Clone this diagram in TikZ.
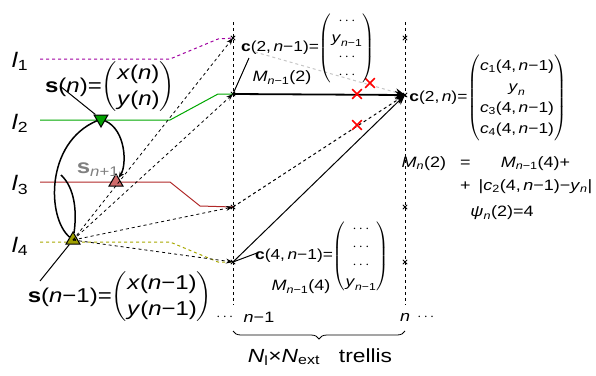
\documentclass[tikz,border=0pt]{standalone}
\usepackage{fontspec}
\setmainfont[FakeStretch=1.2]{Liberation Sans}
\usepackage{amsmath}
\usetikzlibrary{positioning,arrows.meta,shapes.geometric,shapes.misc,decorations.pathreplacing}
\definecolor{lvlone}{HTML}{A000A0}
\definecolor{lvltwo}{HTML}{00A800}
\definecolor{lvlthree}{HTML}{B02828}
\definecolor{lvlfour}{HTML}{A8A800}
\definecolor{trigreen}{HTML}{00A000}
\definecolor{trired}{HTML}{D06A6A}
\definecolor{triolive}{HTML}{A0A000}
\newcommand{\lowidx}[1]{\ensuremath{_{\text{#1}}}}
\newcommand{\vi}[1]{\textit{#1}}

\begin{document}
\begin{tikzpicture}[x=1pt,y=-1pt,
    lvl/.style={line width=1pt},
    tri/.style={regular polygon, regular polygon sides=3, draw, line width=1pt,
      inner sep=0pt, minimum size=16pt},
    hop/.style={dashed, line width=0.8pt, -{Stealth[length=7pt,width=5pt]}},
    big/.style={font=\fontsize{20}{26}\selectfont, inner sep=1pt},
    mid/.style={font=\fontsize{15}{21}\selectfont, inner sep=1pt},
    xmark/.style={cross out, draw, line width=0.8pt, minimum size=3.5pt, inner sep=0pt},
    cut/.style={cross out, draw=red, line width=1.6pt, minimum size=8pt, inner sep=0pt},
    trajectory/.style={line width=1.5pt}
  ]
  \useasboundingbox (0,0) rectangle (596,375);

  % trellis columns
  \coordinate (ca) at (233,22); \coordinate (cb) at (233,305);
  \coordinate (da) at (405,22); \coordinate (db) at (405,305);
  \draw[dashed, line width=0.8pt] (ca) -- (cb);
  \draw[dashed, line width=0.8pt] (da) -- (db);

  \node[xmark] (a1) at (233,38) {};  \node[xmark] (b1) at (405,38) {};
  \node[xmark] (a2) at (233,94) {};  \node[xmark] (b2) at (405,95) {};
  \node[xmark] (a3) at (233,207) {}; \node[xmark] (b3) at (405,207) {};
  \node[xmark] (a4) at (233,262) {}; \node[xmark] (b4) at (405,262) {};

  % levels
  \node[font=\fontsize{21}{24}\selectfont] (l1) at (20,61) {\vi{l}\lowidx{1}};
  \node[font=\fontsize{21}{24}\selectfont] (l2) at (20,123) {\vi{l}\lowidx{2}};
  \node[font=\fontsize{21}{24}\selectfont] (l3) at (20,185) {\vi{l}\lowidx{3}};
  \node[font=\fontsize{21}{24}\selectfont] (l4) at (20,246) {\vi{l}\lowidx{4}};
  \draw[lvl, lvlone, dashed] (40,59) -- (170,59) -- (218,39) -- (a1.center);
  \draw[lvl, lvltwo] (40,120) -- (170,120) -- (218,94) -- (a2.center);
  \draw[lvl, lvlthree] (40,182) -- (170,182) -- (200,206) -- (a3.center);
  \draw[lvl, lvlfour, dashed] (40,242) -- (170,242) -- (218,262) -- (a4.center);

  % states
  \node[tri, fill=trigreen, shape border rotate=180] (sn) at (101,119) {};
  \node[tri, fill=trired] (snp) at (116,182) {};
  \node[tri, fill=triolive] (snm) at (73,240) {};

  \draw[hop] (snm.center) -- (a1.center);
  \draw[hop] (snm.center) -- (a2.center);
  \draw[hop] (snm.center) -- (a3.center);
  \draw[hop] (snm.center) -- (a4.center);

  \coordinate (q0) at (61,175);
  \draw[trajectory] (q0) .. controls (75,188) and (77,212) .. (snm);
  \draw[trajectory] (snm) .. controls (47,218) and (45,143) .. (sn);
  \draw[trajectory, -{Stealth[length=6pt,width=5pt]}] (sn) .. controls (126,130) and (127,165) .. (snp);

  % transitions into c(2,n)
  \coordinate (g0) at (255,52);
  \draw[gray!45, dashed, line width=1pt, -{Stealth[black,length=10pt,width=8pt]}] (g0) -- (b2.center);
  \draw[line width=1.8pt, -{Stealth[length=10pt,width=8pt]}] (a2.center) -- (b2.center);
  \draw[dashed, line width=1pt, -{Stealth[length=10pt,width=8pt]}] (a3.center) -- (b2.center);
  \draw[line width=1pt, -{Stealth[length=10pt,width=8pt]}] (a4.center) -- (b2.center);
  \node[cut] (x1) at (370,83) {};
  \node[cut] (x2) at (357,94) {};
  \node[cut] (x3) at (357,125) {};

  % labels
  \node[big] (snlbl) at (110,87) {\textbf{s}(\vi{n})=$\begin{pmatrix}\text{\vi{x}(\vi{n})}\\\text{\vi{y}(\vi{n})}\end{pmatrix}$};
  \coordinate (p1) at (60,86);
  \draw[line width=1pt] (p1) -- (sn);
  \node[big, text=gray] (snplbl) at (98,170) {\textbf{s}\lowidx{\vi{n}+1}};
  \node[big] (smlbl) at (120,297) {\textbf{s}(\vi{n}−1)=$\begin{pmatrix}\text{\vi{x}(\vi{n}−1)}\\\text{\vi{y}(\vi{n}−1)}\end{pmatrix}$};
  \coordinate (p2) at (40,281);
  \draw[line width=1pt] (p2) -- (snm);

  \node[mid, font=\fontsize{14.5}{18}\selectfont] (c2old) at (308,48) {\textbf{c}(2,\,\vi{n}−1)=$\begin{pmatrix}\cdots\\\text{\vi{y}}_{\text{\vi{n}−1}}\\\cdots\\\cdots\end{pmatrix}$};
  \coordinate (p3) at (249,58);
  \draw[line width=1pt] (p3) -- (a2.center);
  \node[mid] (m2old) at (282,78) {\vi{M}\lowidx{\vi{n}−1}(2)};

  \node[mid, font=\fontsize{14.5}{18}\selectfont] (c4old) at (322,256) {\textbf{c}(4,\,\vi{n}−1)=$\begin{pmatrix}\cdots\\\cdots\\\cdots\\\text{\vi{y}}_{\text{\vi{n}−1}}\end{pmatrix}$};
  \coordinate (p4) at (257,253);
  \draw[line width=1pt] (p4) -- (a4.center);
  \node[mid] (m4old) at (301,287) {\vi{M}\lowidx{\vi{n}−1}(4)};

  \node[mid, font=\fontsize{14.5}{21}\selectfont] (c2new) at (488,98) {\textbf{c}(2,\,\vi{n})=$\begin{pmatrix}\text{\vi{c}}_{\text{1}}\text{(4,\,\vi{n}−1)}\\\text{\vi{y}}_{\text{\vi{n}}}\\\text{\vi{c}}_{\text{3}}\text{(4,\,\vi{n}−1)}\\\text{\vi{c}}_{\text{4}}\text{(4,\,\vi{n}−1)}\end{pmatrix}$};
  \node[mid, font=\fontsize{15}{23}\selectfont] (mupd) at (497,174) {\begin{tabular}{@{}l@{\hspace{14pt}}c@{\hspace{8pt}}c@{}}
    \vi{M}\lowidx{\vi{n}}(2) & = & \vi{M}\lowidx{\vi{n}−1}(4)+\\
     & + & |\vi{c}\lowidx{2}(4,\,\vi{n}−1)−\vi{y}\lowidx{\vi{n}}|\end{tabular}};
  \node[mid] (psi) at (502,213) {\vi{ψ}\lowidx{\vi{n}}(2)=4};

  % time axis
  \node[mid] (dl) at (226,317) {$\cdots$};
  \node[mid] (tnm) at (259,317) {\vi{n}−1};
  \node[mid] (tn) at (405,317) {\vi{n}};
  \node[mid] (dr) at (427,317) {$\cdots$};
  \draw[decorate, decoration={brace, mirror, amplitude=8pt}, line width=0.8pt] (ca |- 331,331) -- (da |- 331,331);
  \node[font=\fontsize{19}{23}\selectfont] (trl) at (320,357) {\vi{N}\lowidx{l}×\vi{N}\lowidx{ext}\quad trellis};
\end{tikzpicture}
\end{document}
